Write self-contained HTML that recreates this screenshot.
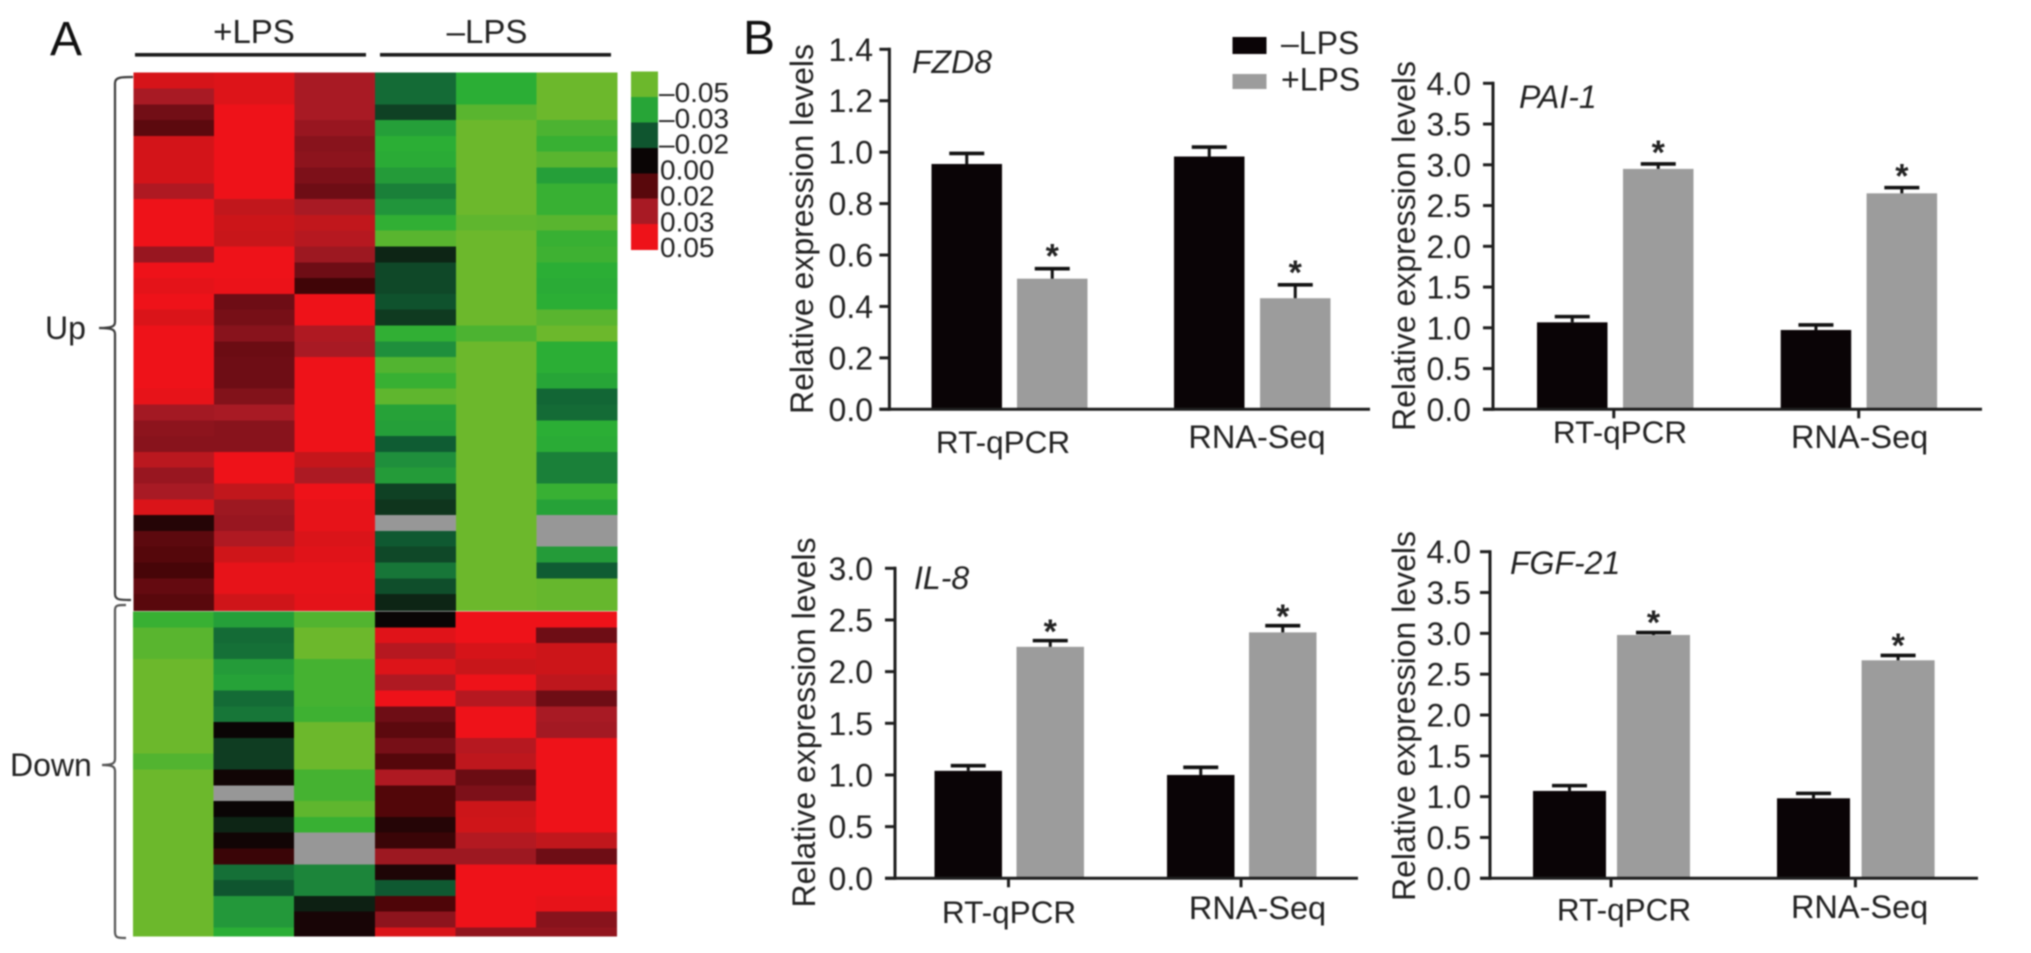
<!DOCTYPE html>
<html lang="en">
<head>
<meta charset="utf-8">
<title>LPS expression heatmap and bar charts</title>
<style>
html,body{margin:0;padding:0;background:#fff;width:2031px;height:953px;overflow:hidden}
svg{display:block;font-family:"Liberation Sans",Arial,sans-serif;filter:blur(0.7px)}
text{fill:#222}
</style>
</head>
<body>
<svg id="figure" xmlns="http://www.w3.org/2000/svg" width="2031" height="953" viewBox="0 0 2031 953">
  <rect x="0" y="0" width="2031" height="953" fill="#fff"/>
  <text x="50" y="55" font-size="48" style="fill:#111">A</text>
  <text x="743" y="54" font-size="48" style="fill:#111">B</text>
  <text x="254" y="43" font-size="33" text-anchor="middle">+LPS</text>
  <text x="487" y="43" font-size="33" text-anchor="middle">–LPS</text>
  <rect x="135" y="53" width="231" height="3.6" fill="#1c1c1c"/>
  <rect x="380" y="53" width="231" height="3.6" fill="#1c1c1c"/>
  <path d="M133 77 C122 77 115 77 115 83 L115 322 C115 326 113 328 99 328 C113 328 115 330 115 334 L115 594 C115 600 120 600 131 600" fill="none" stroke="#3c3c3c" stroke-width="2.2"/>
  <path d="M126 605 C118 605 115 605 115 610 L115 759 C115 763 113 765 102 765 C113 765 115 767 115 771 L115 932 C115 938 118 938 126 938" fill="none" stroke="#555" stroke-width="2.2"/>
  <text x="45" y="339" font-size="32">Up</text>
  <text x="10" y="776" font-size="32">Down</text>
  <g id="heatmap"></g>
  <g id="colorbar"></g>
  <g id="charts"></g>
  <g>
    <rect x="1232.5" y="37" width="34" height="17" fill="#0a0406"/>
    <rect x="1232.5" y="74" width="34" height="15" fill="#9c9c9c"/>
    <text x="1281" y="54" font-size="32">–LPS</text>
    <text x="1281" y="90.5" font-size="32">+LPS</text>
  </g>
</svg>
<script>
// ---------- heatmap data (scale -5 .. +5, null = missing) ----------
const upRows = [
[4.3,4.5,3,-2.3,-4,-5],[3,4.5,3,-2.3,-4,-5],[2,5,3,-1.2,-4.7,-5],[1.4,5,2.7,-3.5,-5,-4.5],
[4.2,5,2.4,-4,-5,-4.2],[4.2,5,2.5,-3.9,-5,-4.7],[4.2,5,2.2,-3.4,-5,-3.5],[3.2,5,1.9,-2.7,-5,-4.2],
[5,3.7,3,-3.2,-5,-4.2],[5,4,3.7,-4.1,-4.8,-4.7],[5,3.9,3.4,-4.7,-5,-4.2],[2.7,5,2.8,-0.6,-5,-4.3],
[5,5,1.9,-1.4,-5,-4],[4.7,4.9,0.8,-1.4,-5,-3.9],[5,1.9,5,-1.7,-5,-4],[4.4,2.1,5,-1,-5,-4.7],
[5,2.4,3.2,-4.1,-4.5,-5],[5,1.8,3,-3,-5,-4],[5,1.9,5,-4.6,-5,-4],[5,1.9,5,-4.2,-5,-3.7],
[4.8,2.3,5,-4.8,-5,-2.2],[2.9,3,5,-3.6,-5,-2.3],[2.5,2.4,5,-3.5,-5,-4],[2.4,2.4,5,-2,-5,-3.9],
[3.5,5,3.8,-3,-5,-2.7],[2.7,5,3.1,-3.4,-5,-2.7],[3,3.7,5,-1.2,-5,-4.2],[4.4,2.8,4.8,-0.9,-5,-3.6],
[0.4,2.7,4.8,null,-5,null],[1.4,3.2,4.4,-1.9,-5,null],[1.2,4.1,4.6,-1.4,-5,-3.4],[0.9,4.8,4.8,-2.5,-5,-2],
[1.6,4.8,4.8,-1.6,-5,-4.9],[1.3,4.1,4.7,-0.6,-5,-4.9]
];
const downRows = [
[-4.2,-3.5,-4.6,0,5,5],[-4.7,-2.3,-5,4.6,5,1.9],[-4.7,-2.4,-5,3.4,4.3,4],[-5,-3.4,-4.4,4.5,3.9,4],
[-5,-3.6,-4.4,3.2,5,3.6],[-5,-2.3,-4.4,5,3.4,1.9],[-5,-2.5,-4.3,1.9,5,3],[-5,0,-5,1.4,5,2.9],
[-5,-1.1,-5,2.1,3.4,5],[-4.6,-1.1,-5,1.2,3.6,5],[-5,0.1,-4.4,3.2,1.8,5],[-5,null,-4.4,1.1,2.2,5],
[-5,0,-4.8,1.1,4,5],[-5,-0.6,-4.2,0.4,4.1,5],[-5,0.1,null,0.7,3.3,3.7],[-5,0.7,null,2.8,2.8,1.9],
[-5,-2.4,-2.8,0.3,5,5],[-5,-1.8,-2.8,-1.9,5,5],[-5,-3.3,-0.5,1,5,4.8],[-5,-3.3,0.2,2.5,5,2.4],
[-5,-4,0.2,4.4,2.6,2.6]
];
const colorbarLevels = [-5,-3.7,-1.8,0,1.3,3,5];
const colorbarLabels = ['–0.05','–0.03','–0.02','0.00','0.02','0.03','0.05'];

// ---------- bar chart data ----------
const categories = ['RT-qPCR','RNA-Seq'];

const fzd8Ticks = ['0.0','0.2','0.4','0.6','0.8','1.0','1.2','1.4'];
const fzd8Minus = [0.954,0.983];
const fzd8MinusErr = [0.995,1.02];
const fzd8Plus = [0.508,0.432];
const fzd8PlusErr = [0.547,0.484];

const pai1Ticks = ['0.0','0.5','1.0','1.5','2.0','2.5','3.0','3.5','4.0'];
const pai1Minus = [1.067,0.973];
const pai1MinusErr = [1.137,1.035];
const pai1Plus = [2.95,2.65];
const pai1PlusErr = [3.01,2.72];

const il8Ticks = ['0.0','0.5','1.0','1.5','2.0','2.5','3.0'];
const il8Minus = [1.04,1.0];
const il8MinusErr = [1.09,1.074];
const il8Plus = [2.24,2.38];
const il8PlusErr = [2.30,2.445];

const fgf21Ticks = ['0.0','0.5','1.0','1.5','2.0','2.5','3.0','3.5','4.0'];
const fgf21Minus = [1.07,0.98];
const fgf21MinusErr = [1.135,1.04];
const fgf21Plus = [2.98,2.67];
const fgf21PlusErr = [3.01,2.73];

// ---------- helpers ----------
const NS = 'http://www.w3.org/2000/svg';
function make(parent, tag, attrs, txt) {
  const el = document.createElementNS(NS, tag);
  for (const k in attrs) el.setAttribute(k, attrs[k]);
  if (txt !== undefined) el.textContent = txt;
  parent.appendChild(el);
  return el;
}
const colorStops = [[-5,[108,184,44]],[-4,[43,174,53]],[-3,[31,143,60]],[-2,[15,92,51]],[-1,[15,58,32]],[0,[10,5,5]],[1,[78,5,8]],[2,[114,14,22]],[3,[168,26,36]],[4,[204,21,25]],[5,[238,18,25]]];
function heatColor(v) {
  if (v === null) return '#979797';
  for (let i = 0; i < colorStops.length - 1; i++) {
    const a = colorStops[i], b = colorStops[i + 1];
    if (v <= b[0]) {
      const t = (v - a[0]) / (b[0] - a[0]);
      const c = a[1].map((n, j) => Math.round(n + (b[1][j] - n) * t));
      return 'rgb(' + c.join(',') + ')';
    }
  }
  return '#ee1219';
}

// ---------- heatmap ----------
const heatmap = document.getElementById('heatmap');
const CELL_W = 80.6, ROW_H = 15.8;
function drawBlock(rows, left, top, bottom, blockName) {
  const g = make(heatmap, 'g', {});
  
  
  rows.forEach(function (row, r) {
    row.forEach(function (v, c) {
      const y = top + r * ROW_H;
      const h = Math.min(ROW_H, bottom - y);
      const cell = make(g, 'rect', {x: left + c * CELL_W, y: y, width: CELL_W + 0.3, height: h + 1.3, fill: heatColor(v), 'shape-rendering': 'crispEdges'});
      
      
    });
  });
}
drawBlock(upRows, 133.4, 72.7, 610, 'up-regulated-block');
drawBlock(downRows, 133, 611.5, 935, 'down-regulated-block');

// ---------- colour legend ----------
const colorbar = document.getElementById('colorbar');
const barTop = 71.7, barStep = 25.4;
colorbarLevels.forEach(function (v, i) {
  const sw = make(colorbar, 'rect', {x: 631, y: barTop + i * barStep, width: 27, height: barStep + 0.3, fill: heatColor(v), 'shape-rendering': 'crispEdges'});
  
  
});
colorbarLabels.forEach(function (label, i) {
  const neg = label.charAt(0) === '–';
  const t = make(colorbar, 'text', {x: neg ? 659 : 660, y: 92 + i * 25.85 + 10, 'font-size': 28}, label);
  
  
});

// ---------- bar charts ----------
const charts = document.getElementById('charts');
const AXIS = '#1e1e1e', BLACK = '#0a0406', GRAY = '#9c9c9c';

function drawChart(o) {
  const g = make(charts, 'g', {});
  
  
  const ticks = o.ticks.map(Number);
  const maxV = Math.max.apply(null, ticks);
  const y = function (v) { return o.y0 - (v / maxV) * (o.y0 - o.yTop); };

  // bars and error bars
  function drawSeries(values, errs, lefts, width, fill, seriesName, starred) {
    values.forEach(function (v, i) {
      const bar = make(g, 'rect', {x: lefts[i], y: y(v), width: width, height: o.y0 - y(v), fill: fill});
      
      
      const cx = lefts[i] + width / 2;
      const stem = make(g, 'line', {x1: cx, x2: cx, y1: y(v), y2: y(errs[i]), stroke: '#111', 'stroke-width': 3});
      
      
      const cap = make(g, 'line', {x1: cx - 17.5, x2: cx + 17.5, y1: y(errs[i]), y2: y(errs[i]), stroke: '#111', 'stroke-width': 3.6});
      
      
      if (starred) {
        const star = make(g, 'text', {x: cx, y: y(errs[i]) - o.starGap + 18.5, 'font-size': 34, 'font-weight': 'bold', 'text-anchor': 'middle'}, '*');
        
        
      }
    });
  }
  drawSeries(o.minus, o.minusErr, o.minusX, o.barW, BLACK, 'minus-lps', false);
  drawSeries(o.plus, o.plusErr, o.plusX, o.barW, GRAY, 'plus-lps', true);

  // axes
  const yAxis = make(g, 'line', {x1: o.axisX, x2: o.axisX, y1: o.yTop - 1.5, y2: o.y0 + 1.5, stroke: AXIS, 'stroke-width': 3});
  
  
  const xAxis = make(g, 'line', {x1: o.axisX - 10, x2: o.xEnd, y1: o.y0, y2: o.y0, stroke: AXIS, 'stroke-width': 3});
  
  

  o.ticks.forEach(function (label) {
    const ty = y(Number(label));
    const tick = make(g, 'line', {x1: o.axisX - 10, x2: o.axisX, y1: ty, y2: ty, stroke: AXIS, 'stroke-width': 3});
    
    
    const t = make(g, 'text', {x: o.labelX, y: ty + 11.5, 'font-size': 32, 'text-anchor': 'end'}, label);
    
    
  });

  categories.forEach(function (cat, i) {
    if (o.xTicks) {
      const xt = make(g, 'line', {x1: o.xTicks[i], x2: o.xTicks[i], y1: o.y0, y2: o.y0 + 9, stroke: AXIS, 'stroke-width': 3});
      
      
    }
    const t = make(g, 'text', {x: o.catX[i], y: o.catY[i], 'font-size': i === 0 ? 31.5 : 32.5, 'text-anchor': 'middle'}, cat);
    
    
  });

  const title = make(g, 'text', {x: 0, y: 0, 'font-size': 32, 'text-anchor': 'middle', transform: 'translate(' + o.titleX + ' ' + o.titleY + ') rotate(-90)'}, 'Relative expression levels');
  
  

  const gene = make(g, 'text', {x: o.geneX, y: o.geneY, 'font-size': 32, 'font-style': 'italic'}, o.gene);
  
  
}

drawChart({name: 'fzd8', gene: 'FZD8', geneX: 912, geneY: 73, ticks: fzd8Ticks,
  minus: fzd8Minus, minusErr: fzd8MinusErr, plus: fzd8Plus, plusErr: fzd8PlusErr,
  axisX: 889.4, y0: 409.3, yTop: 49.3, xEnd: 1370, labelX: 873,
  minusX: [931.5, 1174], plusX: [1017, 1260], barW: 70.5, starGap: 19.5,
  catX: [1003, 1257], catY: [453, 448], titleX: 813, titleY: 229});

drawChart({name: 'pai-1', gene: 'PAI-1', geneX: 1519, geneY: 108, ticks: pai1Ticks,
  minus: pai1Minus, minusErr: pai1MinusErr, plus: pai1Plus, plusErr: pai1PlusErr,
  axisX: 1493, y0: 409.3, yTop: 83.3, xEnd: 1982, labelX: 1471,
  minusX: [1537, 1780.7], plusX: [1623, 1866.6], barW: 70.5, starGap: 18.5,
  xTicks: [1613.8, 1858.7], catX: [1620, 1859.6], catY: [443, 448], titleX: 1415, titleY: 246});

drawChart({name: 'il-8', gene: 'IL-8', geneX: 914, geneY: 589, ticks: il8Ticks,
  minus: il8Minus, minusErr: il8MinusErr, plus: il8Plus, plusErr: il8PlusErr,
  axisX: 895, y0: 878.3, yTop: 568.3, xEnd: 1358, labelX: 873,
  minusX: [934.5, 1167], plusX: [1016.5, 1249], barW: 67.5, starGap: 16,
  xTicks: [1008.5, 1241], catX: [1009, 1257.5], catY: [923, 919], titleX: 815, titleY: 722.5});

drawChart({name: 'fgf-21', gene: 'FGF-21', geneX: 1510, geneY: 574, ticks: fgf21Ticks,
  minus: fgf21Minus, minusErr: fgf21MinusErr, plus: fgf21Plus, plusErr: fgf21PlusErr,
  axisX: 1490, y0: 878.3, yTop: 551.7, xEnd: 1978, labelX: 1471,
  minusX: [1533, 1777], plusX: [1617, 1861.6], barW: 73, starGap: 17,
  xTicks: [1611, 1855.4], catX: [1624, 1859.6], catY: [920.7, 918], titleX: 1415, titleY: 716});
</script>
</body>
</html>
